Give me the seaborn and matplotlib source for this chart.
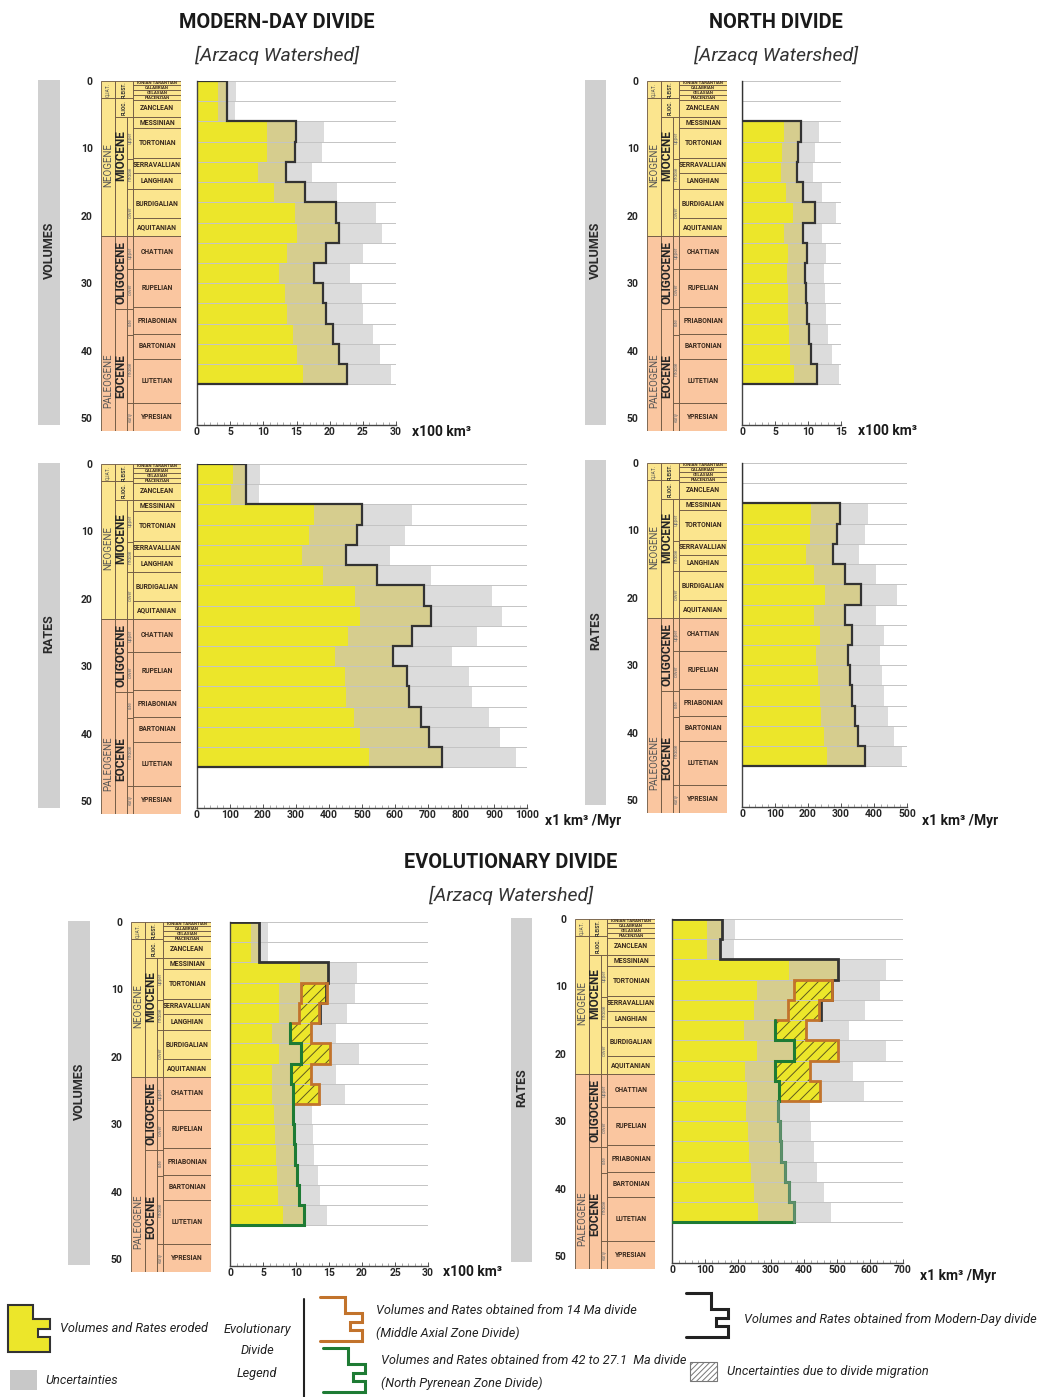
import numpy as np
import pandas as pd
import matplotlib
matplotlib.use("Agg")
import matplotlib.pyplot as plt
from matplotlib.patches import Rectangle, Polygon
import seaborn as sns

sns.set_style("white")
plt.rcParams['font.family'] = ['Roboto', 'DejaVu Sans']
plt.rcParams['hatch.linewidth'] = 0.7

# time bins (Ma)
age_edges = [0, 3, 6, 9, 12, 15, 18, 21, 24, 27, 30, 33, 36, 39, 42, 45]

# modern-day divide, volumes (x100 km3)
mod_vol_low = [3.2, 3.2, 10.6, 10.5, 9.2, 11.6, 14.7, 15.1, 13.6, 12.4, 13.3, 13.6, 14.4, 15.0, 16.0]
mod_vol_mid = [4.5, 4.45, 14.9, 14.7, 13.4, 16.3, 20.9, 21.4, 19.4, 17.7, 19.0, 19.4, 20.5, 21.4, 22.6]
mod_vol_high = [5.85, 5.8, 19.2, 18.8, 17.3, 21.1, 27.0, 27.9, 25.1, 23.1, 24.8, 25.1, 26.5, 27.6, 29.3]

# north divide, volumes
north_vol_low = [0, 0, 6.3, 6.0, 5.9, 6.7, 7.8, 6.4, 6.9, 6.8, 6.9, 7.0, 7.1, 7.3, 7.9]
north_vol_mid = [0, 0, 8.9, 8.5, 8.3, 9.3, 11.1, 9.3, 9.8, 9.6, 9.7, 9.8, 10.2, 10.5, 11.3]
north_vol_high = [0, 0, 11.6, 11.1, 10.8, 12.1, 14.3, 12.1, 12.7, 12.4, 12.5, 12.7, 13.1, 13.6, 14.7]

# modern-day divide, rates (km3/Myr)
mod_rate_low = [109, 104, 354, 338, 317, 383, 479, 495, 457, 417, 448, 450, 477, 493, 521]
mod_rate_mid = [147, 147, 500, 485, 450, 545, 687, 708, 652, 594, 636, 642, 679, 703, 742]
mod_rate_high = [191, 187, 650, 630, 586, 708, 893, 925, 847, 772, 824, 834, 885, 917, 966]

# north divide, rates
north_rate_low = [0, 0, 210, 206, 194, 217, 252, 217, 235, 224, 229, 235, 239, 247, 257]
north_rate_mid = [0, 0, 296, 289, 275, 311, 360, 311, 333, 321, 326, 333, 341, 353, 372]
north_rate_high = [0, 0, 382, 373, 356, 405, 470, 405, 431, 417, 424, 431, 442, 462, 486]

# evolutionary divide
evo_vol_low = [3.2, 3.2, 10.6, 7.4, 7.4, 6.4, 7.4, 6.3, 6.4, 6.7, 6.8, 6.9, 7.1, 7.2, 8.0]
evo_vol_inner = [4.4, 4.35, 14.9, 10.7, 10.4, 9.1, 10.8, 9.2, 9.5, 9.6, 9.7, 9.8, 10.1, 10.4, 11.2]
evo_vol_outer = [4.4, 4.35, 14.9, 14.7, 13.5, 12.2, 15.2, 12.2, 13.5, 9.6, 9.7, 9.8, 10.1, 10.4, 11.2]
evo_vol_high = [5.8, 5.7, 19.2, 18.9, 17.7, 16.1, 19.5, 16.0, 17.4, 12.4, 12.6, 12.8, 13.3, 13.6, 14.7]
evo_vol_modern = [4.4, 4.35, 14.9, 14.5, 13.6]

evo_rate_low = [107, 107, 354, 258, 248, 217, 258, 220, 227, 223, 230, 233, 240, 248, 260]
evo_rate_inner = [150, 145, 503, 369, 352, 313, 370, 313, 323, 321, 326, 331, 341, 354, 371]
evo_rate_outer = [150, 145, 503, 486, 445, 407, 503, 417, 447, 321, 326, 331, 341, 354, 371]
evo_rate_high = [190, 187, 650, 629, 586, 536, 650, 550, 581, 417, 422, 429, 440, 460, 483]
evo_rate_modern = [150, 145, 503, 485, 452]

migration_bins = [3, 4, 5, 6, 7, 8]   # 14 Ma divide window
npz_first_bin = 5                     # 42 to 27.1 Ma divide from here down

# chronostratigraphic column
era_bounds = [0, 2.58, 23.03, 52]
epoch_bounds = [5.33, 23.03, 33.9, 52]
quat_names = ['PLEIST.', 'PLIOC.']
quat_bounds = [0, 2.58, 5.33]
sub_names = ['upper', 'middle', 'lower', 'upper', 'lower', 'late', 'middle', 'early']
sub_bounds = [5.33, 11.63, 15.97, 23.03, 27.82, 33.9, 37.71, 47.8, 52]
stage_names = ['IONIAN TARANTIAN', 'CALABRIAN', 'GELASIAN', 'PIACENZIAN', 'ZANCLEAN', 'MESSINIAN',
               'TORTONIAN', 'SERRAVALLIAN', 'LANGHIAN', 'BURDIGALIAN', 'AQUITANIAN', 'CHATTIAN',
               'RUPELIAN', 'PRIABONIAN', 'BARTONIAN', 'LUTETIAN', 'YPRESIAN']
stage_bounds = [0, 0.6, 1.4, 2.1, 2.8, 5.33, 7.0, 11.4, 13.6, 15.97, 20.4, 23.03, 27.82,
                33.6, 37.5, 41.2, 47.8, 52]

YELLOW = '#ECE62A'
TAN = '#D6CD8E'
GREY = '#DCDCDC'
NEO = '#FBE58E'
PALEO = '#FAC6A0'
EDGE = '#6b5540'
ORANGE = '#C2732C'
GREEN = '#1E7B34'
LINE = '#333333'

W, H = 1039, 1397
PX = 6.74  # pixels per Myr
fig = plt.figure(figsize=(W / 100, H / 100), dpi=100)

over = fig.add_axes([0, 0, 1, 1])
over.set_xlim(0, W)
over.set_ylim(H, 0)
over.axis('off')


def px_axes(x0, y0, x1, y1):
    return fig.add_axes([x0 / W, 1 - y1 / H, (x1 - x0) / W, (y1 - y0) / H])


def step_xy(vals, edges):
    xs, ys = [], []
    for v, a, b in zip(vals, edges[:-1], edges[1:]):
        xs += [v, v]
        ys += [a, b]
    return xs, ys


def strat_column(x0, top):
    ax = px_axes(x0, top, x0 + 80, top + 52 * PX)
    ax.set_facecolor('none')
    ax.set_xlim(0, 80)
    ax.set_ylim(52, 0)

    def boxes(xa, xb, bounds, names, **txt):
        for t0, t1, name in zip(bounds[:-1], bounds[1:], names):
            c = NEO if (t0 + t1) / 2 < 23.03 else PALEO
            ax.barh(t0, xb - xa, height=t1 - t0, left=xa, align='edge', color=c,
                    edgecolor=EDGE, linewidth=0.6)
            ax.text((xa + xb) / 2, (t0 + t1) / 2, name, ha='center', va='center', **txt)

    boxes(0, 14, era_bounds, ['', '', ''])
    ax.text(7, 1.3, 'QUAT.', rotation=90, ha='center', va='center', fontsize=3.5, color='#555')
    ax.text(7, 12.5, 'NEOGENE', rotation=90, ha='center', va='center', fontsize=7, color='#555')
    ax.text(7, 44.5, 'PALEOGENE', rotation=90, ha='center', va='center', fontsize=7, color='#555')
    boxes(14, 32.3, quat_bounds, quat_names, rotation=90, fontsize=3.4, fontweight='bold', color='#333')
    boxes(14, 25.7, epoch_bounds, ['', '', ''])
    ax.text(19.8, 11.0, 'MIOCENE', rotation=90, ha='center', va='center', fontsize=8.5, fontweight='bold')
    ax.text(19.8, 28.4, 'OLIGOCENE', rotation=90, ha='center', va='center', fontsize=8.5, fontweight='bold')
    ax.text(19.8, 43.8, 'EOCENE', rotation=90, ha='center', va='center', fontsize=8.5, fontweight='bold')
    boxes(25.7, 32.3, sub_bounds, sub_names, rotation=90, fontsize=3.4, color='#777')
    for t0, t1, name in zip(stage_bounds[:-1], stage_bounds[1:], stage_names):
        c = NEO if (t0 + t1) / 2 < 23.03 else PALEO
        ax.barh(t0, 47.7, height=t1 - t0, left=32.3, align='edge', color=c,
                edgecolor=EDGE, linewidth=0.6)
        fs = 3.2 if t1 - t0 < 1.0 else 4.9
        ax.text(56.2, (t0 + t1) / 2, name, ha='center', va='center', fontsize=fs,
                fontweight='bold', color='#3a2a1e')
    for s in ax.spines.values():
        s.set_visible(False)
    ax.set_xticks([])
    ax.set_yticks([0, 10, 20, 30, 40, 50])
    ax.set_yticks(range(0, 53), minor=True)
    ax.tick_params(axis='y', which='major', length=5, width=0.7, color='#777', labelsize=7.5, pad=1)
    ax.tick_params(axis='y', which='minor', length=2.5, width=0.5, color='#999')
    for lab in ax.get_yticklabels():
        lab.set_fontweight('bold')
    return ax


def chart_axes(x0, x1, top):
    ax = px_axes(x0, top, x1, top + 51 * PX)
    ax.set_facecolor('none')
    return ax


def layer(ax, vals, color):
    centers = [(a + b) / 2 for a, b in zip(age_edges[:-1], age_edges[1:])]
    sns.barplot(x=vals, y=centers, orient='h', native_scale=True, width=1.0, color=color,
                saturation=1, errorbar=None, linewidth=0, ax=ax)


def finish(ax, xmax, major, minor):
    ax.hlines(age_edges, 0, xmax, color='#c4c4c4', lw=0.7, zorder=2)
    ax.set_xlim(0, xmax)
    ax.set_ylim(51, 0)
    ax.set(xlabel='', ylabel='')
    ax.set_yticks([])
    ax.set_xticks(np.arange(0, xmax + 0.1, major))
    ax.set_xticks(np.arange(0, xmax + 0.1, minor), minor=True)
    ax.tick_params(axis='x', which='major', length=3, width=0.7, color='#555', labelsize=7.5, pad=1.5,
                   direction='in', bottom=True)
    ax.tick_params(axis='x', which='minor', length=2, width=0.5, color='#888', direction='in',
                   bottom=True)
    for lab in ax.get_xticklabels():
        lab.set_fontweight('bold')
    sns.despine(ax=ax)
    for s in ['left', 'bottom']:
        ax.spines[s].set_color('#444')
        ax.spines[s].set_linewidth(1.0)


def simple_panel(x0, x1, top, low, mid, high, xmax, major, minor):
    ax = chart_axes(x0, x1, top)
    layer(ax, high, GREY)
    layer(ax, mid, TAN)
    layer(ax, low, YELLOW)
    finish(ax, xmax, major, minor)
    xs, ys = step_xy(mid, age_edges)
    ax.plot([0] + xs + [0], [age_edges[0]] + ys + [age_edges[-1]], color=LINE, lw=1.6,
            zorder=4, solid_joinstyle='miter')
    return ax


def evo_panel(x0, x1, top, low, inner, outer, high, modern, xmax, major, minor, lower_green):
    ax = chart_axes(x0, x1, top)
    centers = [(a + b) / 2 for a, b in zip(age_edges[:-1], age_edges[1:])]
    layer(ax, high, GREY)
    hb = migration_bins
    ax.barh([centers[i] for i in hb], [outer[i] for i in hb], height=3, color=YELLOW,
            edgecolor='#5f5a1e', hatch='///', linewidth=0, zorder=1)
    layer(ax, inner, TAN)
    layer(ax, low, YELLOW)
    finish(ax, xmax, major, minor)
    # modern-day divide part
    nb = len(modern)
    xs, ys = step_xy(modern, age_edges[:nb + 1])
    ax.plot([0] + xs + [outer[nb - 1]], [0] + ys + [age_edges[nb]], color=LINE, lw=2.0,
            zorder=4, solid_joinstyle='miter')
    # 14 Ma divide outline
    e = age_edges[hb[0]:hb[-1] + 2]
    rx, ry = step_xy([outer[i] for i in hb], e)
    lx, ly = step_xy([inner[i] for i in hb], e)
    ax.add_patch(Polygon(list(zip(rx + lx[::-1], ry + ly[::-1])), closed=True, fill=False,
                         edgecolor=ORANGE, lw=2.0, zorder=5, joinstyle='miter'))
    # 42 to 27.1 Ma divide
    gx, gy = step_xy(inner[npz_first_bin:], age_edges[npz_first_bin:])
    ax.plot([0] + gx[::-1], [age_edges[-1]] + gy[::-1], color=GREEN, lw=2.2, zorder=6,
            solid_joinstyle='miter')
    if lower_green:
        k = hb[-1] + 1
        sx, sy = step_xy(inner[k:], age_edges[k:])
        ax.plot(sx, sy, color=lower_green, lw=2.0, zorder=7, solid_joinstyle='miter')
    return ax


# ---- panels
strat_column(101, 81)
simple_panel(197, 396, 81, mod_vol_low, mod_vol_mid, mod_vol_high, 30, 5, 1)
strat_column(647, 81)
simple_panel(742, 841, 81, north_vol_low, north_vol_mid, north_vol_high, 15, 5, 1)
strat_column(101, 464)
simple_panel(197, 527, 464, mod_rate_low, mod_rate_mid, mod_rate_high, 1000, 100, 20)
strat_column(647, 463)
simple_panel(742, 907, 463, north_rate_low, north_rate_mid, north_rate_high, 500, 100, 20)
strat_column(131, 922)
evo_panel(230, 428, 922, evo_vol_low, evo_vol_inner, evo_vol_outer, evo_vol_high,
          evo_vol_modern, 30, 5, 1, None)
strat_column(575, 919)
evo_panel(672, 903, 919, evo_rate_low, evo_rate_inner, evo_rate_outer, evo_rate_high,
          evo_rate_modern, 700, 100, 20, '#5E8F6C')

# ---- titles, side labels, units
for x, y, t in [(277, 22, 'MODERN-DAY DIVIDE'), (776, 22, 'NORTH DIVIDE'), (511, 862, 'EVOLUTIONARY DIVIDE')]:
    over.text(x, y, t, ha='center', va='center', fontsize=14.3, fontweight='bold', color='#1a1a1a')
for x, y in [(277, 55), (776, 55), (511, 895)]:
    over.text(x, y, '[Arzacq Watershed]', ha='center', va='center', fontsize=14, style='italic',
              color='#333')

for x0, x1, y0, y1, t in [(38, 60, 80, 425, 'VOLUMES'), (585, 606, 80, 425, 'VOLUMES'),
                          (38, 60, 463, 808, 'RATES'), (585, 606, 460, 805, 'RATES'),
                          (68, 90, 921, 1265, 'VOLUMES'), (511, 532, 918, 1262, 'RATES')]:
    over.add_patch(Rectangle((x0, y0), x1 - x0, y1 - y0, color='#D0D0D0', lw=0))
    over.text((x0 + x1) / 2, (y0 + y1) / 2 - 2, t, rotation=90, ha='center', va='center',
              fontsize=9, fontweight='bold', color='#2a2a2a')

for x, y, t in [(412, 432, 'x100 km³'), (858, 431, 'x100 km³'), (545, 821, 'x1 km³ /Myr'),
                (922, 821, 'x1 km³ /Myr'), (443, 1272, 'x100 km³'), (920, 1276, 'x1 km³ /Myr')]:
    over.text(x, y, t, ha='left', va='center', fontsize=10, fontweight='bold', color='#1a1a1a')

# ---- legend
legend_font = dict(fontsize=9.2, style='italic', color='#222', va='center')
over.add_patch(Polygon([(8, 1305), (33, 1305), (33, 1319), (50, 1319), (50, 1329), (38, 1329),
                        (38, 1337), (50, 1337), (50, 1352), (8, 1352)], closed=True,
                       facecolor=YELLOW, edgecolor='#333', lw=1.5))
over.text(60, 1328, 'Volumes and Rates eroded', ha='left', **legend_font)
over.add_patch(Rectangle((10, 1370), 27, 20, color='#C8C8C8', lw=0))
over.text(45, 1381, 'Uncertainties', ha='left', **legend_font)
for y, t in [(1329, 'Evolutionary'), (1351, 'Divide'), (1373, 'Legend')]:
    over.text(257, y, t, ha='center', **legend_font)
over.plot([304, 304], [1299, 1397], color='#222', lw=1.5)


def legend_step(x, y, color):
    pts = [(x, y), (x + 25, y), (x + 25, y + 16), (x + 42, y + 16), (x + 42, y + 25),
           (x + 30, y + 25), (x + 30, y + 33), (x + 42, y + 33), (x + 42, y + 44), (x, y + 44)]
    over.plot([p[0] for p in pts], [p[1] for p in pts], color=color, lw=2.2,
              solid_joinstyle='miter')


legend_step(320, 1297, ORANGE)
over.text(376, 1311, 'Volumes and Rates obtained from 14 Ma divide', ha='left', **legend_font)
over.text(376, 1333, '(Middle Axial Zone Divide)', ha='left', **legend_font)
legend_step(323, 1348, GREEN)
over.text(381, 1360, 'Volumes and Rates obtained from 42 to 27.1  Ma divide', ha='left', **legend_font)
over.text(381, 1383, '(North Pyrenean Zone Divide)', ha='left', **legend_font)
legend_step(686, 1293, '#222')
over.text(744, 1320, 'Volumes and Rates obtained from Modern-Day divide', ha='left', **legend_font)
over.add_patch(Rectangle((690, 1362), 27, 19, facecolor='white', edgecolor='#777', hatch='//////',
                         lw=0.8))
over.text(727, 1372, 'Uncertainties due to divide migration', ha='left', **legend_font)

fig.savefig('out.png', dpi=100)
